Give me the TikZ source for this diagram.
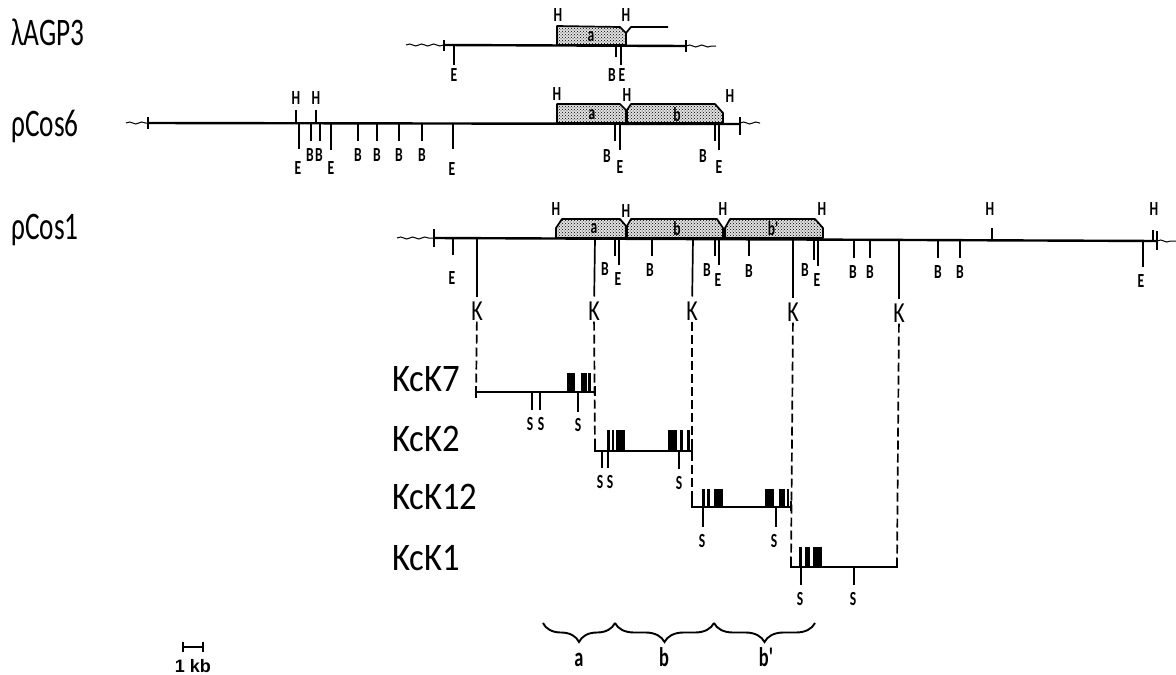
\documentclass[tikz,border=0pt]{standalone}
\usepackage{fontspec}
\setmainfont[FakeStretch=0.76]{Carlito}
\newfontfamily\narrowfont[FakeStretch=0.68]{Carlito}
\newfontfamily\plasmidfont[FakeStretch=0.70]{Carlito}
\newfontfamily\clonefont[FakeStretch=0.89]{Carlito}
\newfontfamily\kbfont{Liberation Sans}
\usetikzlibrary{patterns,decorations.pathmorphing,decorations.pathreplacing}
\tikzset{
  mapline/.style={black,line width=2.4pt},
  wavy/.style={black,line width=1pt,decorate,decoration={snake,amplitude=1pt,segment length=12pt}},
  tick/.style={black,line width=1.7pt},
  insert/.style={black,line width=1.7pt,line join=round,preaction={fill=black!12},pattern=crosshatch dots,pattern color=black},
  site/.style={inner sep=1pt,font=\fontsize{20}{20}\narrowfont\bfseries},
  klabel/.style={inner sep=1pt,font=\fontsize{29}{29}\selectfont},
  plasmid/.style={inner sep=0pt,anchor=west,font=\fontsize{39}{39}\plasmidfont},
  clone/.style={inner sep=0pt,anchor=west,font=\fontsize{39}{39}\clonefont},
  repeatname/.style={inner sep=0pt,anchor=base,font=\fontsize{27}{27}\narrowfont\bfseries},
  link/.style={black,line width=1.7pt,dash pattern=on 9pt off 4pt},
  bracket/.style={black,line width=1.9pt,decorate,decoration={brace,mirror,amplitude=19pt}}
}
\begin{document}
\begin{tikzpicture}[x=1pt,y=-1pt]
\useasboundingbox (0,0) rectangle (1176,675);

% names at the left
\node[plasmid] (agp) at (11,32) {λAGP3};
\node[plasmid] (cos6) at (11,126) {ρCos6};
\node[plasmid] (cos1) at (11,230) {ρCos1};
\node[clone] (kck7) at (392,379) {KcK7};
\node[clone] (kck2) at (392,439) {KcK2};
\node[clone] (kck12) at (392,497) {KcK12};
\node[clone] (kck1) at (392,558) {KcK1};

% lambda AGP3
\draw[insert] (557,45) -- (557,26) -- (620,27) -- (626,33) -- (626,45) -- cycle;
\draw[tick] (626,33) -- (631,27) -- (668,27);
\draw[wavy] (406,45) -- (444,45);\draw[wavy] (686,46) -- (716,46);
\draw[mapline] (444,45) -- (686,46);
\draw[tick] (444,40) -- (444,51);\draw[tick] (686,40) -- (686,52);
\draw[tick] (454,46) -- (454,65);\draw[tick] (616,46) -- (616,57);\draw[tick] (621,46) -- (621,65);
\node[site] (a1) at (558,15) {H};\node[site] (a2) at (626,15) {H};
\node[site] (a3) at (454,75) {E};\node[site] (a4) at (612,75) {B};\node[site] (a5) at (622,75) {E};
\node[site] (a6) at (591,37) {a};

% pCos6
\draw[insert] (557,123) -- (557,104) -- (620,104) -- (626,110) -- (626,123) -- cycle;
\draw[insert] (627,123) -- (627,110) -- (631,104) -- (715,104) -- (723,113) -- (723,123) -- cycle;
\draw[wavy] (126,123) -- (148,123);\draw[wavy] (740,123) -- (760,123);
\draw[mapline] (148,123) -- (740,124);
\draw[tick] (148,117) -- (148,129);\draw[tick] (740,117) -- (740,135);
\draw[tick] (296,110) -- (296,123);\draw[tick] (316,110) -- (316,123);
\draw[tick] (299,123) -- (299,149);\draw[tick] (311,123) -- (311,141);\draw[tick] (320,123) -- (320,141);
\draw[tick] (331,123) -- (331,150);\draw[tick] (358,123) -- (358,141);\draw[tick] (377,123) -- (377,141);
\draw[tick] (399,123) -- (399,141);\draw[tick] (422,123) -- (422,141);\draw[tick] (453,123) -- (453,149);
\draw[tick] (615,123) -- (615,141);\draw[tick] (620,123) -- (620,150);
\draw[tick] (715,123) -- (715,141);\draw[tick] (719,123) -- (719,150);
\node[site] (b1) at (296,98) {H};\node[site] (b2) at (316,98) {H};
\node[site] (b3) at (557,94) {H};\node[site] (b4) at (627,95) {H};\node[site] (b5) at (730,96) {H};
\node[site] (b6) at (298,168) {E};\node[site] (b7) at (310,155) {B};\node[site] (b8) at (319,155) {B};
\node[site] (b9) at (331,168) {E};\node[site] (b10) at (358,155) {B};\node[site] (b11) at (377,155) {B};
\node[site] (b12) at (399,155) {B};\node[site] (b13) at (422,155) {B};\node[site] (b14) at (452,169) {E};
\node[site] (b15) at (607,156) {B};\node[site] (b16) at (620,167) {E};
\node[site] (b17) at (703,156) {B};\node[site] (b18) at (719,167) {E};
\node[site] (b19) at (592,115) {a};\node[site] (b20) at (677,115) {b};

% pCos1
\draw[insert] (556,238) -- (556,228) -- (562,219) -- (620,219) -- (626,226) -- (626,238) -- cycle;
\draw[insert] (627,238) -- (627,226) -- (631,219) -- (717,219) -- (723,228) -- (723,238) -- cycle;
\draw[insert] (725,238) -- (725,228) -- (730,219) -- (815,219) -- (823,228) -- (823,238) -- cycle;
\draw[wavy] (397,238) -- (434,238);\draw[wavy] (1157,241) -- (1176,241);
\draw[mapline] (434,238) -- (1157,241);
\draw[tick] (434,229) -- (434,247);\draw[tick] (1157,231) -- (1157,250);
\draw[tick] (992,228) -- (992,240);\draw[tick] (1153,230) -- (1153,240);
\draw[tick] (453,238) -- (453,255);\draw[tick] (615,238) -- (615,256);\draw[tick] (619,238) -- (619,265);
\draw[tick] (652,238) -- (652,256);\draw[tick] (715,238) -- (715,256);\draw[tick] (719,238) -- (719,265);
\draw[tick] (749,239) -- (749,256);\draw[tick] (814,239) -- (814,260);\draw[tick] (818,239) -- (818,266);
\draw[tick] (854,240) -- (854,258);\draw[tick] (870,240) -- (870,258);
\draw[tick] (938,240) -- (938,258);\draw[tick] (960,240) -- (960,258);\draw[tick] (1143,241) -- (1143,267);
\node[site] (c1) at (556,209) {H};\node[site] (c2) at (626,211) {H};\node[site] (c3) at (723,209) {H};
\node[site] (c4) at (822,209) {H};\node[site] (c5) at (990,209) {H};\node[site] (c6) at (1154,209) {H};
\node[site] (c7) at (452,278) {E};\node[site] (c8) at (605,269) {B};\node[site] (c9) at (618,279) {E};
\node[site] (c10) at (650,270) {B};\node[site] (c11) at (707,270) {B};\node[site] (c12) at (718,280) {E};
\node[site] (c13) at (749,271) {B};\node[site] (c14) at (805,270) {B};\node[site] (c15) at (817,280) {E};
\node[site] (c16) at (853,272) {B};\node[site] (c17) at (870,272) {B};\node[site] (c18) at (938,272) {B};
\node[site] (c19) at (960,272) {B};\node[site] (c20) at (1141,281) {E};
\node[site] (c21) at (594,229) {a};\node[site] (c22) at (677,229) {b};\node[site] (c23) at (773,229) {b'};

% K sites and the dashed links
\coordinate (k1a) at (477,238);\coordinate (k2a) at (595,238);\coordinate (k3a) at (693,238);
\coordinate (k4a) at (793,239);\coordinate (k5a) at (899,240);
\node[klabel] (k1) at (477,311) {K};\node[klabel] (k2) at (594,311) {K};\node[klabel] (k3) at (692,311) {K};
\node[klabel] (k4) at (793,312) {K};\node[klabel] (k5) at (899,313) {K};
\coordinate (k1b) at (476,398);\coordinate (k2b) at (595,451);\coordinate (k3b) at (692,507);
\coordinate (k4b) at (791,567);\coordinate (k5b) at (897,567);
\draw[tick,shorten >=4pt] (k1a) -- (k1);\draw[tick,shorten >=4pt] (k2a) -- (k2);\draw[tick,shorten >=4pt] (k3a) -- (k3);
\draw[tick,shorten >=4pt] (k4a) -- (k4);\draw[tick,shorten >=4pt] (k5a) -- (k5);
\draw[link] (k1) -- (k1b);\draw[link] (k2) -- (k2b);\draw[link] (k3) -- (k3b);
\draw[link] (k4) -- (k4b);\draw[link] (k5) -- (k5b);

% KcK7
\draw[mapline] (476,392) -- (595,392);
\draw[tick] (476,386) -- (476,398);\draw[tick] (595,386) -- (595,396);
\fill (567,373) rectangle (575,392);\fill (581,373) rectangle (587,392);\fill (588,373) rectangle (591,392);
\draw[tick] (532,392) -- (532,410);\draw[tick] (540,392) -- (540,410);\draw[tick] (578,392) -- (578,412);
\node[site] (d1) at (530,424) {S};\node[site] (d2) at (541,424) {S};\node[site] (d3) at (578,425) {S};

% KcK2
\draw[mapline] (595,451) -- (692,451);
\draw[tick] (595,441) -- (595,452);\draw[tick] (692,445) -- (692,455);
\fill (607,430) rectangle (610,451);\fill (612,430) rectangle (614,451);\fill (616,430) rectangle (625,451);
\fill (668,430) rectangle (677,451);\fill (680,430) rectangle (683,451);\fill (687,430) rectangle (690,451);
\draw[tick] (602,451) -- (602,468);\draw[tick] (608,451) -- (608,468);\draw[tick] (679,451) -- (679,469);
\node[site] (e1) at (600,482) {S};\node[site] (e2) at (610,482) {S};\node[site] (e3) at (679,483) {S};

% KcK12
\draw[mapline] (692,507) -- (791,507);
\draw[tick] (692,498) -- (692,508);\draw[tick] (791,501) -- (791,511);
\fill (702,489) rectangle (705,507);\fill (707,489) rectangle (710,507);\fill (714,489) rectangle (723,507);
\fill (765,489) rectangle (774,507);\fill (779,489) rectangle (785,507);\fill (787,489) rectangle (789,507);
\draw[tick] (703,507) -- (703,527);\draw[tick] (776,507) -- (776,527);
\node[site] (f1) at (702,541) {S};\node[site] (f2) at (774,541) {S};

% KcK1
\draw[mapline] (791,567) -- (897,567);
\draw[tick] (791,558) -- (791,568);\draw[tick] (897,558) -- (897,568);
\fill (799,547) rectangle (802,567);\fill (805,547) rectangle (810,567);\fill (813,547) rectangle (822,567);
\draw[tick] (801,567) -- (801,585);\draw[tick] (854,567) -- (854,585);
\node[site] (g1) at (800,599) {S};\node[site] (g2) at (853,599) {S};

% braces
\coordinate (s0) at (543,623);\coordinate (s1) at (615,623);\coordinate (s2) at (714,623);\coordinate (s3) at (815,623);
\draw[bracket] (s0) -- (s1);\draw[bracket] (s1) -- (s2);\draw[bracket] (s2) -- (s3);
\node[repeatname] (h1) at (579,666) {a};
\node[repeatname] (h2) at (664,666) {b};
\node[repeatname] (h3) at (766,666) {b'};

% scale bar
\coordinate (kb1) at (183,647);\coordinate (kb2) at (203,647);
\draw[tick] (kb1) -- (kb2);\draw[tick] (183,642) -- (183,652);\draw[tick] (203,642) -- (203,652);
\node[inner sep=0pt,font=\fontsize{18}{18}\kbfont\bfseries] (kb) at (193,666) {1 kb};

\end{tikzpicture}
\end{document}
